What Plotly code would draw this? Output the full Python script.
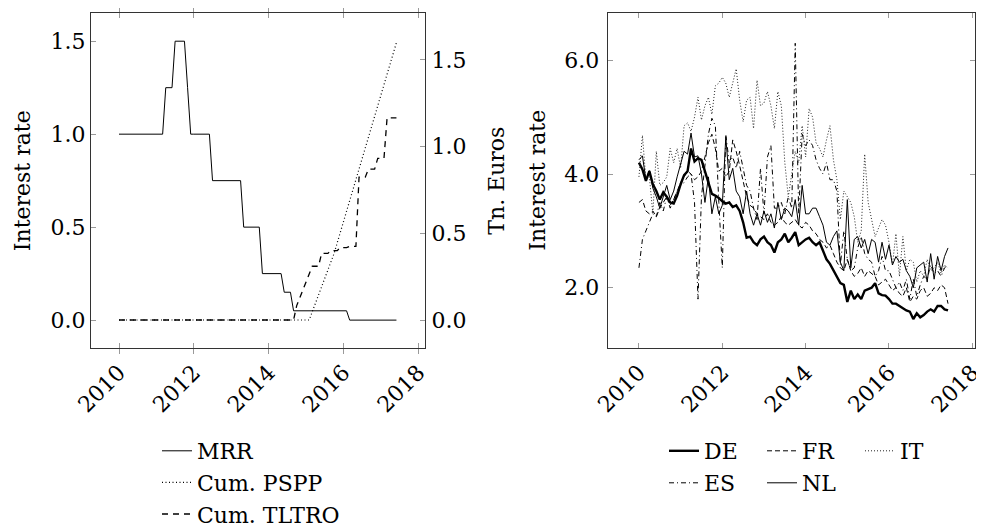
import plotly.graph_objects as go

# ---------------- data ----------------
N_MONTHS = 90  # Jan 2010 .. Jun 2017
months = [2010 + i / 12 for i in range(N_MONTHS)]

year_ticks = [2010, 2012, 2014, 2016, 2018]
year_labels = ["2010", "2012", "2014", "2016", "2018"]

# Left panel: ECB main refinancing rate (%), cumulative PSPP and TLTRO (tn EUR)
mrr = ([1.00] * 15 + [1.25] * 3 + [1.50] * 4 + [1.25] + [1.00] * 7 + [0.75] * 10
       + [0.50] * 6 + [0.25] * 7 + [0.15] * 3 + [0.05] * 18 + [0.00] * 16)

pspp = ([0.0] * 62 +
        [0.048, 0.096, 0.144, 0.192, 0.240, 0.288, 0.336, 0.384,
         0.445, 0.506, 0.566, 0.627, 0.688, 0.749, 0.810, 0.870,
         0.931, 0.992, 1.053, 1.114, 1.175, 1.235, 1.296, 1.357,
         1.418, 1.479, 1.540, 1.600])

tltro = ([0.0] * 57 +
         [0.083, 0.13, 0.17, 0.212, 0.26, 0.310, 0.310, 0.310,
          0.384, 0.384, 0.384, 0.400, 0.400, 0.400, 0.418, 0.418, 0.418,
          0.425, 0.425, 0.425, 0.824, 0.824, 0.824, 0.870, 0.870, 0.870,
          0.932, 0.932, 0.932, 1.166, 1.166, 1.166, 1.166])

# Right panel: interest rates by country (%)
de = [4.20, 4.08, 3.88, 4.05, 3.82, 3.70, 3.55, 3.68, 3.60, 3.50, 3.48, 3.62,
      3.82, 3.98, 4.05, 4.45, 4.22, 4.28, 4.25, 4.05, 3.85, 3.65, 3.62, 3.58,
      3.52, 3.48, 3.50, 3.42, 3.45, 3.35, 3.15, 2.88, 2.90, 2.80, 2.75, 2.85,
      2.90, 2.80, 2.75, 2.62, 2.80, 2.85, 2.95, 2.80, 2.88, 2.98, 2.75, 2.80,
      2.85, 2.88, 2.80, 2.75, 2.80, 2.65, 2.50, 2.42, 2.30, 2.20, 2.08, 2.05,
      1.75, 1.95, 1.80, 1.88, 1.80, 1.95, 1.98, 2.00, 2.08, 1.90, 1.87, 1.86,
      1.80, 1.72, 1.72, 1.68, 1.65, 1.60, 1.58, 1.45, 1.55, 1.48, 1.52, 1.58,
      1.62, 1.58, 1.68, 1.68, 1.62, 1.60]

fr = [3.50, 3.55, 3.35, 3.30, 3.35, 3.25, 3.40, 3.50, 3.60, 3.45, 3.55, 3.70,
      3.85, 3.95, 4.05, 4.00, 3.90, 3.95, 4.05, 4.30, 4.55, 4.70, 4.45, 4.05,
      4.10, 3.95, 4.05, 4.60, 4.40, 4.15, 3.85, 3.60, 3.45, 3.40, 3.30, 3.25,
      3.20, 3.30, 3.15, 3.10, 3.15, 3.25, 3.15, 3.10, 3.15, 3.20, 3.10, 3.05,
      3.15, 3.10, 3.00, 2.95, 2.85, 2.80, 2.70, 2.75, 2.60, 2.45, 2.35, 2.30,
      2.50, 2.30, 2.20, 2.25, 2.35, 2.20, 2.30, 2.25, 2.20, 2.05, 2.10, 2.15,
      2.05, 1.95, 2.00, 1.90, 1.85, 2.00, 1.75, 1.85, 1.80, 1.95, 2.00, 1.85,
      1.90, 2.00, 1.95, 2.05, 2.00, 1.72]

it = [3.95, 4.68, 3.90, 3.95, 3.30, 4.40, 3.80, 3.85, 3.95, 4.45, 4.20, 4.45,
      4.10, 4.85, 4.90, 4.75, 5.00, 5.35, 4.95, 5.20, 5.35, 5.05, 5.55, 5.60,
      5.70, 5.60, 5.35, 5.60, 5.85, 5.30, 4.92, 5.30, 5.35, 4.80, 5.65, 5.20,
      5.25, 5.45, 5.20, 4.80, 5.45, 5.20, 4.20, 3.60, 4.00, 4.40, 4.20, 4.85,
      4.30, 5.15, 5.00, 4.55, 4.45, 4.30, 4.60, 4.85, 4.25, 3.90, 3.20, 3.70,
      3.60, 3.50, 3.25, 2.80, 3.00, 4.35, 3.50, 3.20, 2.90, 3.05, 3.20, 3.10,
      2.80, 2.40, 2.95, 2.20, 2.90, 2.30, 2.50, 2.45, 2.10, 2.30, 2.20, 2.50,
      2.30, 2.35, 2.45, 2.25, 2.40, 2.35]

es = [2.35, 2.85, 3.00, 3.15, 3.30, 3.25, 3.50, 3.35, 3.60, 3.40, 3.55, 3.70,
      3.80, 3.85, 3.95, 4.00, 3.50, 1.80, 3.60, 4.20, 4.70, 4.98, 4.85, 3.50,
      2.35, 4.70, 4.20, 4.30, 4.10, 4.40, 4.10, 3.80, 3.70, 3.40, 3.20, 4.10,
      3.30, 4.30, 4.50, 3.40, 3.40, 3.50, 3.30, 3.60, 3.40, 6.30, 3.30, 4.70,
      4.50, 4.60, 4.50, 4.25, 4.10, 4.00, 4.20, 3.90, 3.90, 3.70, 2.40, 3.00,
      2.50, 2.30, 2.35, 2.70, 2.90, 2.60, 2.50, 2.45, 2.20, 2.30, 2.55, 2.30,
      2.30, 2.15, 2.00, 2.10, 1.95, 2.15, 1.80, 2.15, 1.85, 2.05, 2.20, 2.15,
      2.40, 2.25, 2.30, 2.20, 2.35, 2.40]

nl = [4.25, 4.32, 3.90, 4.06, 3.75, 3.60, 3.40, 3.62, 3.80, 3.55, 3.70, 3.95,
      4.20, 4.40, 4.35, 4.72, 4.30, 4.32, 4.00, 3.50, 3.95, 3.30, 3.60, 3.30,
      3.45, 4.65, 3.90, 4.10, 3.70, 3.60, 3.30, 3.70, 3.30, 3.10, 3.30, 3.10,
      3.35, 3.15, 3.30, 3.05, 3.50, 3.20, 3.40, 3.35, 3.25, 3.55, 3.10, 3.80,
      3.30, 3.30, 3.40, 3.40, 3.25, 3.10, 2.80, 2.75, 2.90, 3.00, 2.45, 2.30,
      3.55, 2.35, 2.85, 2.90, 2.70, 2.85, 2.60, 2.85, 2.80, 2.45, 2.80, 2.50,
      2.75, 2.40, 2.55, 2.45, 2.50, 2.30, 2.20, 2.00, 2.35, 2.40, 2.45, 2.10,
      2.60, 2.15, 2.55, 2.30, 2.55, 2.70]

# ---------------- layout helpers ----------------
OFF = 8                 # the page body offsets the figure by 8 px
W, H = 984 - OFF, 528 - OFF
FONT = "DejaVu Serif"
FS = 22


def px(x):
    return (x - OFF) / W


def py(y):
    return 1 - (y - OFF) / H


fig = go.Figure()

# Left panel
fig.add_trace(go.Scatter(x=months, y=mrr, name="MRR", mode="lines",
                         line=dict(color="black", width=1),
                         xaxis="x", yaxis="y", legend="legend"))
fig.add_trace(go.Scatter(x=months, y=pspp, name="Cum. PSPP", mode="lines",
                         line=dict(color="black", width=1.2, dash="1px,2.5px"),
                         xaxis="x", yaxis="y2", legend="legend"))
fig.add_trace(go.Scatter(x=months, y=tltro, name="Cum. TLTRO", mode="lines",
                         line=dict(color="black", width=1.3, dash="6px,5px"),
                         xaxis="x", yaxis="y2", legend="legend"))

# Right panel
fig.add_trace(go.Scatter(x=months, y=de, name="DE", mode="lines",
                         line=dict(color="black", width=2.4),
                         xaxis="x2", yaxis="y3", legend="legend2"))
fig.add_trace(go.Scatter(x=months, y=fr, name="FR", mode="lines",
                         line=dict(color="black", width=1, dash="5px,3px"),
                         xaxis="x2", yaxis="y3", legend="legend2"))
fig.add_trace(go.Scatter(x=months, y=it, name="IT", mode="lines",
                         line=dict(color="#222", width=1, dash="1px,2px"),
                         xaxis="x2", yaxis="y3", legend="legend2"))
fig.add_trace(go.Scatter(x=months, y=es, name="ES", mode="lines",
                         line=dict(color="black", width=1, dash="5px,3px,1px,3px"),
                         xaxis="x2", yaxis="y3", legend="legend3"))
fig.add_trace(go.Scatter(x=months, y=nl, name="NL", mode="lines",
                         line=dict(color="black", width=1),
                         xaxis="x2", yaxis="y3", legend="legend3"))

TICKC = "#9a9a9a"
LINEC = "#333333"
tickfont = dict(family=FONT, size=FS, color="black")

xcommon = dict(tickmode="array", tickvals=year_ticks, ticktext=year_labels,
               ticks="inside", ticklen=5, tickcolor=TICKC, tickwidth=1,
               showline=True, linecolor=LINEC, linewidth=1, mirror="allticks",
               showgrid=False, zeroline=False, tickangle=-45, tickfont=tickfont,
               ticklabelstandoff=2, automargin=False)

fig.update_layout(
    width=W, height=H,
    margin=dict(l=0, r=0, t=0, b=0, autoexpand=False),
    paper_bgcolor="white", plot_bgcolor="white",
    font=dict(family=FONT, size=FS, color="black"),
    showlegend=True,
    xaxis=dict(domain=[px(91), px(425)], range=[2009.2515, 2018.18],
               anchor="y", **xcommon),
    yaxis=dict(domain=[py(348), py(13.3)], range=[-0.15, 1.65],
               tickmode="array", tickvals=[0, 0.5, 1.0, 1.5],
               ticktext=["0.0", "0.5", "1.0", "1.5"],
               ticks="inside", ticklen=5, tickcolor=TICKC,
               showline=True, linecolor=LINEC, linewidth=1, mirror=True,
               showgrid=False, zeroline=False, tickfont=tickfont,
               ticklabelstandoff=0, anchor="x", automargin=False),
    yaxis2=dict(overlaying="y", side="right", anchor="x",
                range=[-0.1615, 1.769],
                tickmode="array", tickvals=[0, 0.5, 1.0, 1.5],
                ticktext=["0.0", "0.5", "1.0", "1.5"],
                ticks="inside", ticklen=5, tickcolor=TICKC,
                showline=True, linecolor=LINEC, linewidth=1,
                showgrid=False, zeroline=False, tickfont=tickfont,
                ticklabelstandoff=1, automargin=False),
    xaxis2=dict(domain=[px(607.7), px(975)], range=[2009.25, 2018.064],
                anchor="y3", **xcommon),
    yaxis3=dict(domain=[py(348), py(13.3)], range=[0.94, 6.827], anchor="x2",
                tickmode="array", tickvals=[2, 4, 6],
                ticktext=["2.0", "4.0", "6.0"],
                ticks="inside", ticklen=5, tickcolor=TICKC,
                showline=True, linecolor=LINEC, linewidth=1, mirror="allticks",
                showgrid=False, zeroline=False, tickfont=tickfont,
                ticklabelstandoff=3, automargin=False),
    legend=dict(x=px(157), y=py(430), xanchor="left", yanchor="top",
                orientation="v", bgcolor="rgba(0,0,0,0)",
                font=dict(family=FONT, size=FS, color="black"),
                itemwidth=30, tracegroupgap=0),
    legend2=dict(x=px(664), y=py(430), xanchor="left", yanchor="top",
                 orientation="h", bgcolor="rgba(0,0,0,0)",
                 entrywidthmode="pixels", entrywidth=53,
                 font=dict(family=FONT, size=FS, color="black")),
    legend3=dict(x=px(664), y=py(462), xanchor="left", yanchor="top",
                 orientation="h", bgcolor="rgba(0,0,0,0)",
                 entrywidthmode="pixels", entrywidth=53,
                 font=dict(family=FONT, size=FS, color="black")),
    annotations=[
        dict(text="Interest rate", x=px(22.5), y=py(180.7), xref="paper",
             yref="paper", showarrow=False, textangle=-90,
             xanchor="center", yanchor="middle",
             font=dict(family=FONT, size=FS, color="black")),
        dict(text="Tn. Euros", x=px(497), y=py(180.7), xref="paper",
             yref="paper", showarrow=False, textangle=-90,
             xanchor="center", yanchor="middle",
             font=dict(family=FONT, size=FS, color="black")),
        dict(text="Interest rate", x=px(538), y=py(180.7), xref="paper",
             yref="paper", showarrow=False, textangle=-90,
             xanchor="center", yanchor="middle",
             font=dict(family=FONT, size=FS, color="black")),
    ],
)

fig.write_html("out.html")
